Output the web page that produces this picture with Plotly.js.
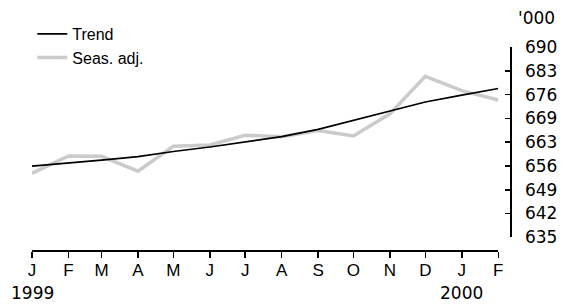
<!DOCTYPE html>
<html>
<head>
<meta charset="utf-8">
<script src="https://cdn.plot.ly/plotly-3.0.1.min.js"></script>
<style>html,body{margin:0;padding:0;background:#fff;}#chart{width:577px;height:307px;}</style>
</head>
<body>
<div id="chart"></div>
<script>
// ---- data ----
var dates = ['1999-01-01','1999-02-01','1999-03-01','1999-04-01','1999-05-01','1999-06-01','1999-07-01',
             '1999-08-01','1999-09-01','1999-10-01','1999-11-01','1999-12-01','2000-01-01','2000-02-01'];
var monthLabels = ['J','F','M','A','M','J','J','A','S','O','N','D','J','F'];
var trend = [655.6, 656.4, 657.3, 658.3, 659.8, 661.1, 662.5, 664.1, 666.2, 668.8, 671.5, 674.1, 676.1, 678.0];
var seasAdj = [653.5, 658.5, 658.4, 654.1, 661.3, 661.7, 664.5, 664.1, 665.9, 664.3, 670.7, 681.5, 677.4, 674.7];
var yTickVals = [635, 641.875, 648.75, 655.625, 662.5, 669.375, 676.25, 683.125, 690];
var yTickText = ['635','642','649','656','663','669','676','683','690'];
var yearLabels = [{x: '1999-01-01', text: '1999'}, {x: '2000-01-01', text: '2000'}];
var unitLabel = "'000";

var numFont = 'DejaVu Sans';
var txtFont = 'Liberation Sans, Arial, sans-serif';

var traces = [
  {x: dates, y: seasAdj, type: 'scatter', mode: 'lines', name: 'Seas. adj.',
   line: {color: '#cbcbcb', width: 3.5}, legendrank: 2, hoverinfo: 'skip'},
  {x: dates, y: trend, type: 'scatter', mode: 'lines', name: 'Trend',
   line: {color: '#000000', width: 1.7}, legendrank: 1, hoverinfo: 'skip'}
];

var H = 250 - 46.5;
var annotations = yearLabels.map(function(d){
  return {x: d.x, xref: 'x', y: -(293 - 250) / H, yref: 'paper', yanchor: 'middle', xanchor: 'center',
          text: d.text, showarrow: false, font: {family: numFont, size: 17, color: '#000'}};
});
annotations.push({x: 1.0, xref: 'paper', y: 1 + (46.5 - 17) / H, yref: 'paper',
  xanchor: 'left', yanchor: 'middle', xshift: 6, text: unitLabel, showarrow: false,
  font: {family: numFont, size: 17, color: '#000'}});

var layout = {
  width: 577, height: 307,
  margin: {l: 32.3, r: 67, t: 46.5, b: 57, autoexpand: false},
  paper_bgcolor: '#fff', plot_bgcolor: '#fff',
  showlegend: true,
  legend: {x: 0.056, y: 0.945, xref: 'container', yref: 'container', xanchor: 'left', yanchor: 'top',
           bgcolor: 'rgba(0,0,0,0)', font: {family: txtFont, size: 16, color: '#000'},
           tracegroupgap: 0, itemclick: false, itemdoubleclick: false},
  xaxis: {type: 'date', range: ['1999-01-01', '2000-02-01'], domain: [0, 466 / 477.7],
          anchor: 'free', position: 0, automargin: false,
          tickmode: 'array', tickvals: dates, ticktext: monthLabels,
          ticks: 'outside', ticklen: 6, tickwidth: 1.5, tickcolor: '#000',
          ticklabelstandoff: -2,
          showline: true, linecolor: '#000', linewidth: 1.5,
          showgrid: false, zeroline: false,
          tickfont: {family: txtFont, size: 17, color: '#000'}},
  yaxis: {range: [635, 690], domain: [12.7 / H, 1], side: 'right',
          anchor: 'free', position: 1, automargin: false,
          tickmode: 'array', tickvals: yTickVals, ticktext: yTickText,
          ticks: 'inside', ticklen: 5, tickwidth: 1.5, tickcolor: '#000',
          ticklabelstandoff: 10,
          showline: true, linecolor: '#000', linewidth: 1.5,
          showgrid: false, zeroline: false,
          tickfont: {family: numFont, size: 17, color: '#000'}},
  annotations: annotations
};

Plotly.newPlot('chart', traces, layout, {staticPlot: true, displayModeBar: false});
</script>
</body>
</html>
